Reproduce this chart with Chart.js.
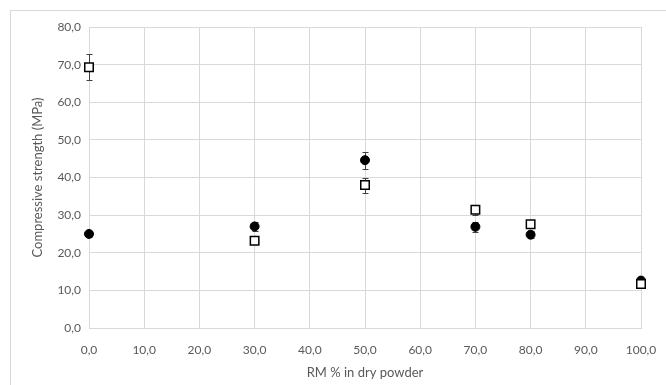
<!DOCTYPE html>
<html>
<head>
<meta charset="utf-8">
<script src="https://cdn.jsdelivr.net/npm/chart.js@4/dist/chart.umd.min.js"></script>
<style>
   body { margin: 0; background: #fff; }
   #wrap { width: 666px; height: 385px; position: relative; }
</style>
</head>
<body>
<div id="wrap"><canvas id="strengthChart"></canvas></div>
<script>
// values
var rmPercent = [0, 30, 50, 70, 80, 100]
var circleStrength = [25.0, 27.0, 44.6, 26.9, 24.8, 12.6]
var circleError = [0.9, 1.3, 2.3, 1.4, 0.9, 0.5]
var squareStrength = [69.3, 23.2, 38.0, 31.4, 27.6, 11.7]
var squareError = [3.5, 0.6, 2.0, 1.3, 1.0, 0.5]
var xTicks = [0, 10, 20, 30, 40, 50, 60, 70, 80, 90, 100]
var yTicks = [0, 10, 20, 30, 40, 50, 60, 70, 80]

function toPoints(xs, ys) {
   return xs.map(function (x, i) { return { x: x, y: ys[i] } })
}
function fmt(v) {
   return Number(v).toFixed(1).replace(".", ",")
}

// error bars drawn through the chart scales
var errorBars = {
   id: "errorBars",
   beforeDatasetsDraw: function (chart) {
      var ctx = chart.ctx
      var xs = chart.scales.x
      var ys = chart.scales.y
      var errs = [squareError, circleError]
      ctx.save()
      ctx.strokeStyle = "#404040"
      ctx.lineWidth = 1
      chart.data.datasets.forEach(function (ds, d) {
         ds.data.forEach(function (p, i) {
            var px = Math.round(xs.getPixelForValue(p.x)) + 0.5
            var top = Math.round(ys.getPixelForValue(p.y + errs[d][i])) + 0.5
            var bot = Math.round(ys.getPixelForValue(p.y - errs[d][i])) + 0.5
            ctx.beginPath()
            ctx.moveTo(px, top); ctx.lineTo(px, bot)
            ctx.moveTo(px - 3, top); ctx.lineTo(px + 3, top)
            ctx.moveTo(px - 3, bot); ctx.lineTo(px + 3, bot)
            ctx.stroke()
         })
      })
      ctx.restore()
   },
}

// light outer frame of the chart
var frame = {
   id: "frame",
   beforeDraw: function (chart) {
      var ctx = chart.ctx
      ctx.save()
      ctx.strokeStyle = "#d9d9d9"
      ctx.lineWidth = 1
      ctx.strokeRect(10.5, 10.5, 700, 400)
      ctx.restore()
   },
}

Chart.defaults.font.family = "Lato, 'Open Sans', sans-serif"
Chart.defaults.color = "#595959"

var ctx = document.getElementById("strengthChart").getContext("2d")
var chart = new Chart(ctx, {
   type: "scatter",
   data: {
      datasets: [
         {
            label: "squares",
            data: toPoints(rmPercent, squareStrength),
            pointStyle: "rect",
            pointRadius: 6,
            pointHoverRadius: 6,
            backgroundColor: "#ffffff",
            borderColor: "#000000",
            borderWidth: 1.5,
            clip: false,
         },
         {
            label: "circles",
            data: toPoints(rmPercent, circleStrength),
            pointStyle: "circle",
            pointRadius: 4.5,
            pointHoverRadius: 4.5,
            backgroundColor: "#000000",
            borderColor: "#000000",
            borderWidth: 1,
            clip: false,
         },
      ],
   },
   options: {
      responsive: true,
      maintainAspectRatio: false,
      animation: false,
      events: [],
      layout: { padding: { top: 27, right: 25, left: 0, bottom: 0 } },
      plugins: {
         legend: { display: false },
         tooltip: { enabled: false },
      },
      scales: {
         x: {
            type: "linear",
            min: 0,
            max: 100,
            afterBuildTicks: function (s) { s.ticks = xTicks.map(function (v) { return { value: v } }) },
            afterFit: function (s) { s.height = 57; s.paddingRight = 0; s.paddingLeft = 0 },
            grid: { color: "#d9d9d9", drawTicks: false },
            border: { color: "#d9d9d9" },
            ticks: { callback: fmt, padding: 15, font: { size: 12 }, maxRotation: 0 },
            title: { display: true, text: "RM % in dry powder", font: { size: 13 }, padding: { top: 1 } },
         },
         y: {
            type: "linear",
            min: 0,
            max: 80,
            afterBuildTicks: function (s) { s.ticks = yTicks.map(function (v) { return { value: v } }) },
            afterFit: function (s) { s.width = 89; s.paddingTop = 0; s.paddingBottom = 0 },
            grid: { color: "#d9d9d9", drawTicks: false },
            border: { color: "#d9d9d9" },
            ticks: { callback: fmt, padding: 8, font: { size: 12 } },
            title: { display: true, text: "Compressive strength (MPa)", font: { size: 13 }, padding: { top: 30, bottom: 4 } },
         },
      },
   },
   plugins: [frame, errorBars],
})
</script>
</body>
</html>
